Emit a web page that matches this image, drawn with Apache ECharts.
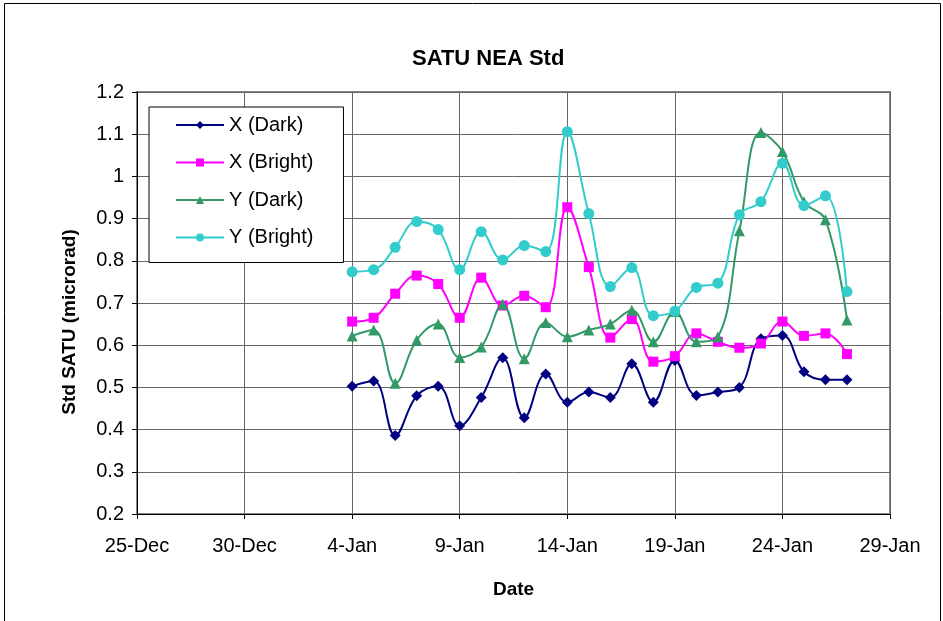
<!DOCTYPE html>
<html>
<head>
<meta charset="utf-8">
<script src="https://cdn.jsdelivr.net/npm/echarts@6/dist/echarts.min.js"></script>
<style>
  html, body { margin: 0; padding: 0; background: #fff; }
  #chart { width: 943px; height: 621px; }
</style>
</head>
<body>
<div id="chart"></div>
<script>
// dates of the daily readings
var dates = ['2007-01-04','2007-01-05','2007-01-06','2007-01-07','2007-01-08','2007-01-09',
  '2007-01-10','2007-01-11','2007-01-12','2007-01-13','2007-01-14','2007-01-15',
  '2007-01-16','2007-01-17','2007-01-18','2007-01-19','2007-01-20','2007-01-21',
  '2007-01-22','2007-01-23','2007-01-24','2007-01-25','2007-01-26','2007-01-27'];

var xDark   = [0.503,0.515,0.386,0.480,0.503,0.409,0.476,0.570,0.428,0.532,0.465,0.489,
  0.476,0.556,0.465,0.564,0.481,0.489,0.500,0.615,0.623,0.537,0.518,0.518];
var xBright = [0.656,0.665,0.722,0.765,0.745,0.665,0.760,0.694,0.717,0.690,0.927,0.785,
  0.618,0.662,0.561,0.574,0.628,0.608,0.594,0.604,0.656,0.622,0.628,0.579];
var yDark   = [0.622,0.636,0.510,0.612,0.650,0.571,0.596,0.697,0.568,0.654,0.620,0.636,
  0.650,0.683,0.608,0.680,0.608,0.620,0.871,1.104,1.059,0.940,0.897,0.660];
var yBright = [0.774,0.779,0.832,0.893,0.874,0.779,0.869,0.802,0.836,0.822,1.106,0.912,
  0.739,0.784,0.670,0.681,0.737,0.747,0.909,0.940,1.031,0.931,0.954,0.727];

// x axis ticks, every 5 days from 25-Dec
var tickLabels = ['25-Dec','30-Dec','4-Jan','9-Jan','14-Jan','19-Jan','24-Jan','29-Jan'];
var startDay = Date.parse('2006-12-25');

function dayOf(d) {
  return (Date.parse(d) - startDay) / 86400000;
}
function pairs(vals) {
  return vals.map(function (v, i) { return [dayOf(dates[i]), v]; });
}

var font = '"Liberation Sans", Arial, sans-serif';

var chart = echarts.init(document.getElementById('chart'));

function line(name, vals, color, symbol, size) {
  return {
    name: name,
    type: 'line',
    data: pairs(vals),
    smooth: 0.4,
    symbol: symbol,
    symbolSize: size,
    lineStyle: { color: color, width: 2 },
    itemStyle: { color: color },
    emphasis: { disabled: true }
  };
}

chart.setOption({
  animation: false,
  backgroundColor: '#fff',
  title: {
    text: 'SATU NEA Std',
    left: 412,
    top: 48,
    padding: 0,
    textStyle: { fontFamily: font, fontSize: 22, fontWeight: 'bold', color: '#000' }
  },
  graphic: [{
    type: 'rect',
    shape: { x: 4.5, y: 3.5, width: 936, height: 640 },
    style: { fill: null, stroke: '#000', lineWidth: 1 }
  }],
  legend: {
    orient: 'vertical',
    left: 149,
    top: 107,
    padding: [8, 30, 15, 26],
    itemWidth: 48,
    itemHeight: 10,
    itemGap: 17.5,
    backgroundColor: '#fff',
    borderColor: '#000',
    borderWidth: 1,
    textStyle: { fontFamily: font, fontSize: 20, color: '#000' },
    data: ['X (Dark)', 'X (Bright)', 'Y (Dark)', 'Y (Bright)']
  },
  grid: {
    left: 137, right: 53, top: 92, bottom: 107,
    show: true, borderColor: '#888', borderWidth: 2
  },
  xAxis: {
    type: 'value',
    min: 0,
    max: 35,
    interval: 5,
    name: 'Date',
    nameLocation: 'middle',
    nameGap: 66,
    nameTextStyle: { fontFamily: font, fontSize: 19, fontWeight: 'bold', color: '#000' },
    axisLine: { lineStyle: { color: '#000', width: 1 } },
    axisTick: { show: true, length: 5, lineStyle: { color: '#000' } },
    axisLabel: {
      fontFamily: font, fontSize: 20, color: '#000', margin: 22,
      formatter: function (v) { return tickLabels[Math.round(v / 5)]; }
    },
    splitLine: { show: true, lineStyle: { color: '#666', width: 1 } }
  },
  yAxis: {
    type: 'value',
    min: 0.2,
    max: 1.2,
    interval: 0.1,
    name: 'Std SATU (microrad)',
    nameLocation: 'middle',
    nameGap: 58,
    nameTextStyle: {
      fontFamily: font, fontSize: 19, fontWeight: 'bold', color: '#000',
      padding: [0, 38, 0, 0]
    },
    axisLine: { show: true, lineStyle: { color: '#000', width: 1 } },
    axisTick: { show: true, length: 5, lineStyle: { color: '#000' } },
    axisLabel: {
      fontFamily: font, fontSize: 20, color: '#000', margin: 13,
      formatter: function (v) { return String(Math.round(v * 10) / 10); }
    },
    splitLine: { show: true, lineStyle: { color: '#666', width: 1 } }
  },
  series: [
    line('X (Dark)', xDark, '#000080', 'diamond', 11),
    line('X (Bright)', xBright, '#ff00ff', 'rect', 10),
    line('Y (Dark)', yDark, '#339966', 'triangle', 11),
    line('Y (Bright)', yBright, '#33cccc', 'circle', 11)
  ]
});
</script>
</body>
</html>
